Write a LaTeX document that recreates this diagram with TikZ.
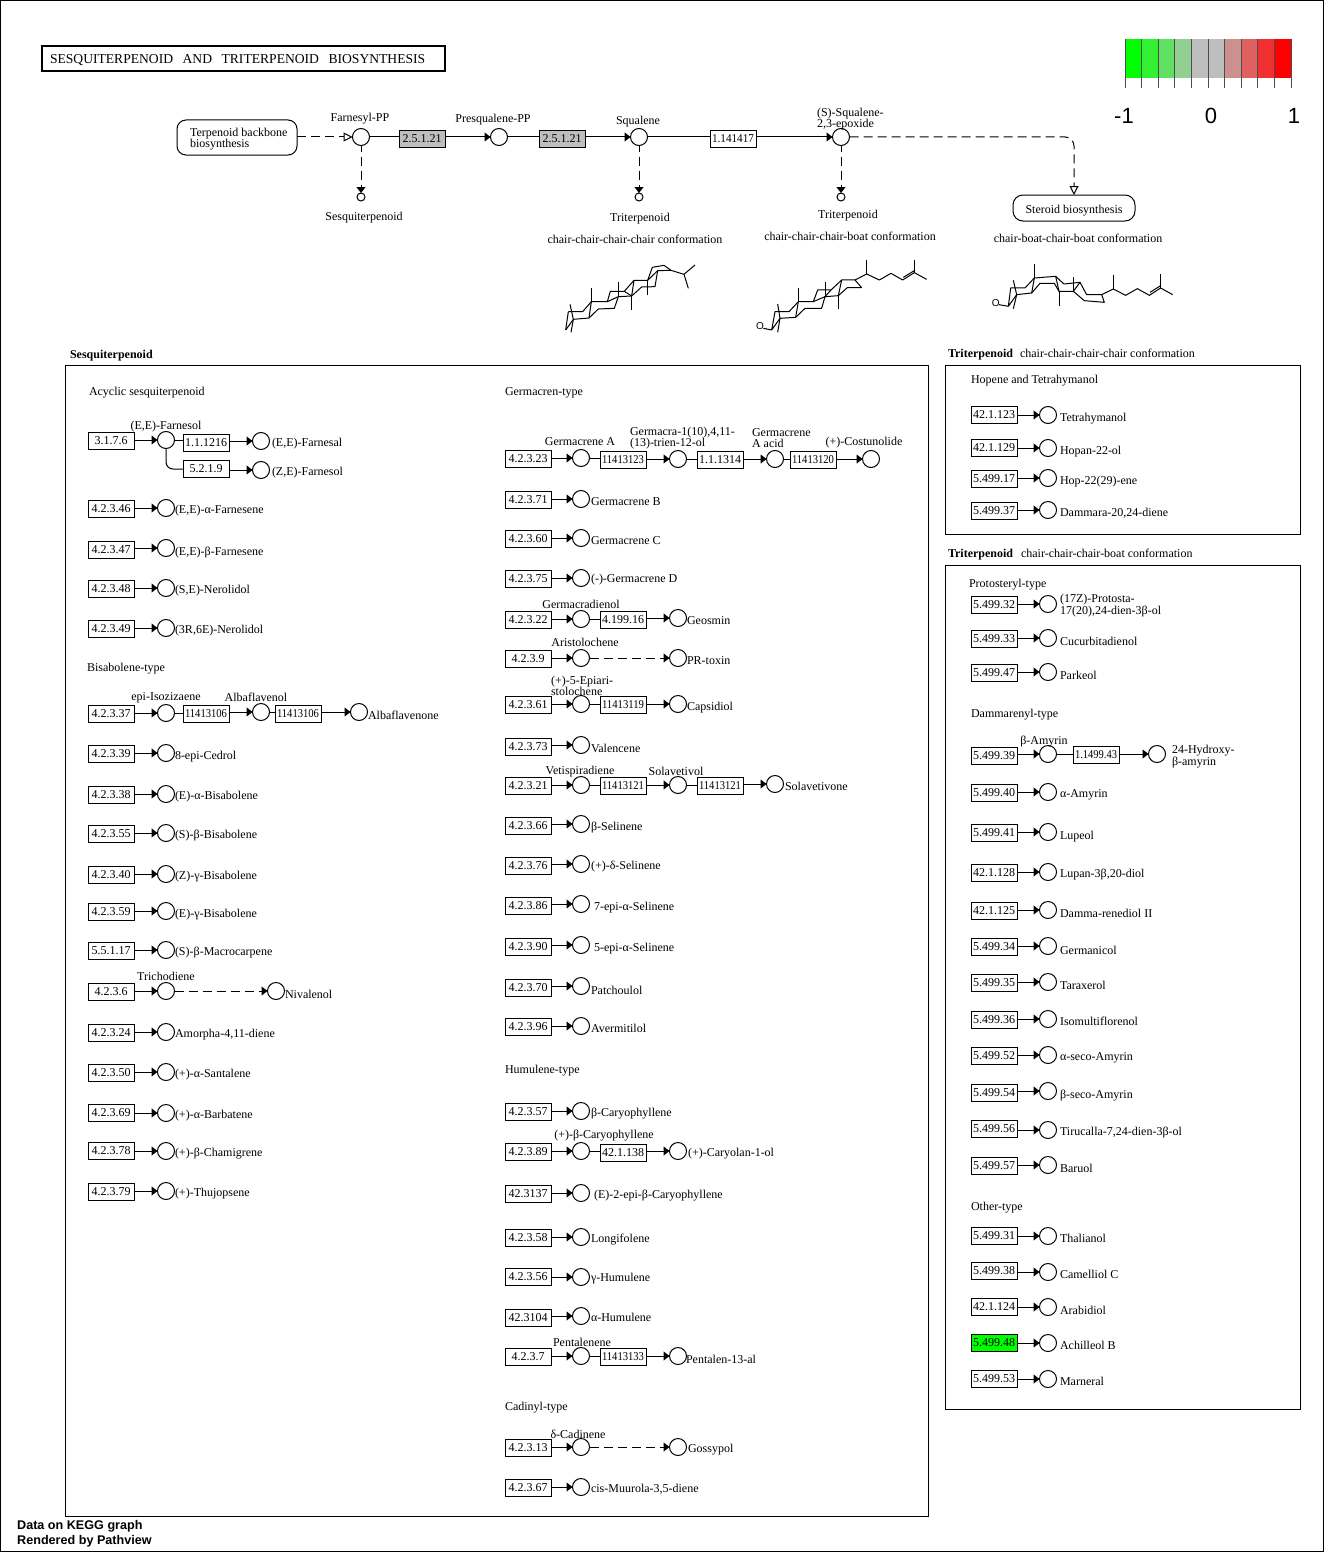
\documentclass[tikz,border=0pt]{standalone}
\usepackage{fontspec}
\usepackage{graphicx}
\setmainfont{Liberation Serif}
\setsansfont{Liberation Sans}
\usetikzlibrary{arrows.meta}
\newcommand\fitw[1]{\raisebox{-0.8pt}{\sbox0{#1}\ifdim\wd0>42pt\resizebox{42pt}{\height}{#1}\else#1\fi}}
\tikzset{
  base/.style={font=\fontsize{12}{11}\selectfont,inner sep=0pt,outer sep=0pt},
  ecbox/.style={base,draw=black,line width=1pt,fill=white,minimum width=46pt,minimum height=17pt},
  cpd/.style={draw=black,line width=1pt,fill=white,circle,minimum size=17pt,inner sep=0pt,outer sep=0pt},
  smallcpd/.style={draw=black,line width=1pt,fill=white,circle,minimum size=8pt,inner sep=0pt,outer sep=0pt},
  lb/.style={base,anchor=west,align=left,yshift=-1.5pt},
  lc/.style={base,anchor=center,align=center,yshift=-1.5pt},
  rx/.style={draw=black,line width=1pt,-{Triangle[length=6pt,width=9pt,fill=black]}},
  plainln/.style={draw=black,line width=1pt},
  dsh/.style={dash pattern=on 9pt off 5pt},
  dshv/.style={dash pattern=on 9pt off 5pt,dash phase=3pt},
  opentip/.style={draw=black,line width=1pt,-{Triangle[open,length=9pt,width=9pt,fill=white]}},
  frame/.style={draw=black,line width=1pt},
  pathbox/.style={base,draw=black,line width=1pt,rounded corners=9pt,fill=white},
  mol/.style={draw=black,line width=1pt,line join=bevel},
  atomlabel/.style={font=\fontsize{10}{10}\selectfont\sffamily,inner sep=0pt},
  footer/.style={font=\fontsize{12.6}{12}\selectfont\sffamily\bfseries,inner sep=0pt,anchor=west},
  legendnum/.style={font=\fontsize{22}{22}\selectfont\sffamily,inner sep=0pt,anchor=center},
  boldlb/.style={lb,font=\fontsize{12}{11}\selectfont\bfseries},
}
\definecolor{ecgray}{HTML}{BEBEBE}
\definecolor{ecgreen}{HTML}{00FF00}
% enzyme box, compound, labels
\newcommand\EC[5][]{\node[ecbox,#1] (#2) at (#3,#4) {\fitw{#5}};}
\newcommand\CP[3]{\node[cpd] (#1) at (#2,#3) {};}
\newcommand\LB[4]{\node[lb] (#1) at (#2,#3) {#4};}
\newcommand\LC[4]{\node[lc] (#1) at (#2,#3) {#4};}
% one-step row without label: id, box x, box y, ec, circle x, circle y
\newcommand\RN[6]{\EC{e#1}{#2}{#3}{#4}\CP{c#1}{#5}{#6}\draw[rx] (e#1.east |- c#1.west) -- (c#1.west);}
% with label: id, box x, box y, ec, circle x, circle y, label x, label y, label
\newcommand\RX[9]{\RN{#1}{#2}{#3}{#4}{#5}{#6}\LB{l#1}{#7}{#8}{#9}}
\newcommand\RL[6][175]{\RX{#2}{111}{#3}{#4}{166}{#5}{#1}{#6}}
\newcommand\RM[6][591]{\RX{#2}{528}{#3}{#4}{581}{#5}{#1}{#6}}
\newcommand\RR[6][1060]{\RX{#2}{994}{#3}{#4}{1048}{#5}{#1}{#6}}
% next step: from circle, id, box x, box y, ec, circle x, circle y
\newcommand\ST[7]{\EC{e#2}{#3}{#4}{#5}\CP{c#2}{#6}{#7}\draw[plainln] (#1.east) -- (e#2.west |- #1.east);\draw[rx] (e#2.east |- c#2.west) -- (c#2.west);}
\begin{document}
\begin{tikzpicture}[x=1pt,y=-1pt]
\useasboundingbox (0,0) rectangle (1324,1552);
\fill[white] (0,0) rectangle (1324,1552);
\draw[black,line width=1pt] (0.5,0.5) rectangle (1323.5,1551.5);

% title
\node[draw=black,line width=2pt,minimum width=403pt,minimum height=24.7pt,inner sep=0pt,outer sep=0pt,anchor=north west] (ttlbox) at (41.5,46) {};
\node[base,font=\fontsize{13.6}{14}\selectfont,anchor=west] (ttl) at (50,60) {\spaceskip=9.5pt SESQUITERPENOID AND TRITERPENOID BIOSYNTHESIS};

% legend
\foreach \i/\c in {0/00FF00,1/33F033,2/60E060,3/92CF92,4/BEBEBE,5/BEBEBE,6/CE8F8F,7/E06060,8/F03030,9/FF0000}{
  \definecolor{lg}{HTML}{\c}
  \fill[lg] ({1125+\i*16.6},39) rectangle ({1125+(\i+1)*16.6},78);
}
\foreach \i in {0,...,10}{\draw[black!70,line width=1pt] ({1125+\i*16.6},39) -- ({1125+\i*16.6},88);}
\node[legendnum] (lgm) at (1124,116) {-1};
\node[legendnum] (lgz) at (1211,116) {0};
\node[legendnum] (lgp) at (1294,116) {1};

% top pathway
\node[pathbox,minimum width=120pt,minimum height=35pt] (tbb) at (237,137.5) {};
\LB{tbbt}{190}{137.5}{Terpenoid backbone\\biosynthesis}
\CP{fpp}{361}{137}\LC{fppl}{360}{117}{Farnesyl-PP}
\draw[opentip,dsh] (tbb.east |- fpp.west) -- (fpp.west);
\EC[fill=ecgray]{e1}{422}{139}{2.5.1.21}
\CP{psq}{499}{137}\LC{psql}{493}{118}{Presqualene-PP}
\EC[fill=ecgray]{e2}{562}{139}{2.5.1.21}
\CP{sq}{639}{137}\LC{sql}{638}{120}{Squalene}
\EC{e3}{733}{139}{1.141417}
\CP{sqe}{841}{137}\LB{sqel}{817}{117.5}{(S)-Squalene-\\2,3-epoxide}
\draw[plainln] (fpp.east) -- (e1.west |- fpp.east);
\draw[rx] (e1.east |- psq.west) -- (psq.west);
\draw[plainln] (psq.east) -- (e2.west |- psq.east);
\draw[rx] (e2.east |- sq.west) -- (sq.west);
\draw[plainln] (sq.east) -- (e3.west |- sq.east);
\draw[rx] (e3.east |- sqe.west) -- (sqe.west);
\node[smallcpd] (s1) at (361,197) {};
\node[smallcpd] (s2) at (639,197) {};
\node[smallcpd] (s3) at (841,197) {};
\draw[rx,dshv] (fpp.south) -- (s1.north);
\draw[rx,dshv] (sq.south) -- (s2.north);
\draw[rx,dshv] (sqe.south) -- (s3.north);
\LC{s1l}{364}{216}{Sesquiterpenoid}
\LC{s2l}{640}{217}{Triterpenoid}
\LC{s2c}{635}{238}{chair-chair-chair-chair conformation}
\LC{s3l}{848}{214}{Triterpenoid}
\LC{s3c}{850}{235}{chair-chair-chair-boat conformation}
\node[pathbox,minimum width=122pt,minimum height=26pt,rounded corners=10pt] (stb) at (1074,208) {};
\LC{stbt}{1074}{209}{Steroid biosynthesis}
\draw[opentip,dsh,rounded corners=9pt] (sqe.east) -- (stb.north |- sqe.east) -- (stb.north);
\LC{s4c}{1078}{237}{chair-boat-chair-boat conformation}

% molecule 1
\begin{scope}[shift={(560,260)},x=0.3333pt,y=-0.3333pt]
\draw[mol] (25,155)--(68,155)--(94,125)--(142,125)--(151,94)--(193,94)--(222,61)--(263,61)--(277,22)--(312,16)--(333,31)--(372,43);
\draw[mol] (17,210)--(40,178)--(87,174)--(115,147)--(163,145)--(175,110)--(215,108)--(245,81)--(285,80)--(293,32)--(333,31);
\draw[mol] (17,210)--(25,155);
\draw[mol] (94,125)--(87,174);
\draw[mol] (142,125)--(175,110);
\draw[mol] (193,94)--(215,108)--(222,61);
\draw[mol] (263,61)--(293,32);
\draw[mol] (95,85)--(95,125);
\draw[mol] (175,67)--(175,110);
\draw[mol] (215,108)--(215,150);
\draw[mol] (263,61)--(263,104);
\draw[mol] (30,133)--(40,178)--(33,217);
\draw[mol] (405,15)--(372,43)--(385,85);
\end{scope}
% molecule 2
\begin{scope}[shift={(750,255)},x=0.3333pt,y=-0.3333pt]
\draw[mol] (65,225)--(75,170)--(117,170)--(145,140)--(190,140)--(203,105)--(243,105)--(275,75)--(315,75)--(335,98)--(292,98)--(265,122)--(225,125)--(215,160)--(165,160)--(137,187)--(90,190)--(65,225);
\draw[mol] (145,140)--(137,187);
\draw[mol] (190,140)--(225,125)--(243,105);
\draw[mol] (275,75)--(265,122);
\draw[mol] (145,98)--(145,140);
\draw[mol] (225,82)--(225,125);
\draw[mol] (265,122)--(265,163);
\draw[mol] (83,147)--(90,190)--(83,232);
\draw[mol] (40,220)--(65,225);
\draw[mol] (315,75)--(350,57)--(388,75)--(423,55)--(458,75)--(493,53)--(530,73);
\draw[mol] (460,67)--(493,47);
\draw[mol] (493,15)--(493,53);
\draw[mol] (350,15)--(350,57);
\node[atomlabel] (o2) at (30,214) {O};
\end{scope}
% molecule 3
\begin{scope}[shift={(985,258)},x=0.3333pt,y=-0.3333pt]
\draw[mol] (70,145)--(77,90)--(120,90)--(148,60)--(212,55)--(237,78)--(285,73)--(305,110)--(350,110)--(358,133)--(298,128)--(265,100)--(222,100)--(208,76)--(165,76)--(140,105)--(95,110)--(70,145);
\draw[mol] (148,60)--(140,105);
\draw[mol] (212,55)--(222,100);
\draw[mol] (265,100)--(285,73);
\draw[mol] (148,18)--(148,60);
\draw[mol] (222,100)--(222,143);
\draw[mol] (265,58)--(265,100);
\draw[mol] (85,67)--(95,110)--(85,152);
\draw[mol] (42,140)--(70,145);
\draw[mol] (350,110)--(385,93)--(422,112)--(457,92)--(493,112)--(527,90)--(563,110);
\draw[mol] (385,50)--(385,93);
\draw[mol] (527,48)--(527,90);
\draw[mol] (495,103)--(527,83);
\node[atomlabel] (o3) at (32,134) {O};
\end{scope}

% frames
\draw[frame] (65.5,365.5) rectangle (928.5,1516.5);
\draw[frame] (945.5,365.5) rectangle (1300.5,534.5);
\draw[frame] (945.5,565.5) rectangle (1300.5,1409.5);
\node[boldlb] (t1) at (70,354) {Sesquiterpenoid};
\node[boldlb] (t2) at (948,353) {Triterpenoid};
\LB{t2b}{1020}{352}{chair-chair-chair-chair conformation}
\node[boldlb] (t3) at (948,553) {Triterpenoid};
\LB{t3b}{1021}{552}{chair-chair-chair-boat conformation}

% ---------- left column
\LB{h1}{89}{391}{Acyclic sesquiterpenoid}
\RN{a}{111}{441}{3.1.7.6}{166}{440}
\LC{al}{166}{425}{(E,E)-Farnesol}
\EC{eb}{206}{443}{1.1.1216}\CP{cb}{261}{441}\LB{lb}{272}{442}{(E,E)-Farnesal}
\EC{ec}{206}{469}{5.2.1.9}\CP{cc}{261}{470}\LB{lc}{272}{471}{(Z,E)-Farnesol}
\draw[plainln] (ca.east) -- (eb.west |- ca.east);
\draw[plainln,rounded corners=7pt] (ca.south) -- (ca.south |- ec.west) -- (ec.west);
\draw[rx] (eb.east |- cb.west) -- (cb.west);
\draw[rx] (ec.east |- cc.west) -- (cc.west);
\RL{d}{509}{4.2.3.46}{508}{509}{(E,E)-α-Farnesene}
\RL{f}{550}{4.2.3.47}{548}{551}{(E,E)-β-Farnesene}
\RL{g}{589}{4.2.3.48}{588}{589}{(S,E)-Nerolidol}
\RL{h}{629}{4.2.3.49}{628}{629}{(3R,6E)-Nerolidol}
\LB{h2}{87}{667}{Bisabolene-type}
\RN{i}{111}{714}{4.2.3.37}{166}{713}
\LC{il}{166}{696}{epi-Isozizaene}
\ST{ci}{j}{206}{714}{11413106}{261}{712}\LC{jl}{256}{696}{Albaflavenol}
\ST{cj}{k}{298}{714}{11413106}{359}{712}\LB{kl}{368}{714}{Albaflavenone}
\RL{m}{754}{4.2.3.39}{753}{755}{8-epi-Cedrol}
\RL{n}{795}{4.2.3.38}{794}{795}{(E)-α-Bisabolene}
\RL{o}{834}{4.2.3.55}{833}{834}{(S)-β-Bisabolene}
\RL{p}{875}{4.2.3.40}{874}{875}{(Z)-γ-Bisabolene}
\RL{q}{912}{4.2.3.59}{911}{913}{(E)-γ-Bisabolene}
\RL{r}{951}{5.5.1.17}{950}{951}{(S)-β-Macrocarpene}
\RN{s}{111}{992}{4.2.3.6}{166}{991}
\LC{sl}{166}{975}{Trichodiene}
\CP{ct}{276}{991}\LB{tl}{285}{993}{Nivalenol}
\draw[rx,dsh] (cs.east) -- (ct.west);
\RL{u}{1033}{4.2.3.24}{1032}{1033}{Amorpha-4,11-diene}
\RL{v}{1073}{4.2.3.50}{1072}{1073}{(+)-α-Santalene}
\RL{w}{1113}{4.2.3.69}{1113}{1114}{(+)-α-Barbatene}
\RL{x}{1151}{4.2.3.78}{1151}{1152}{(+)-β-Chamigrene}
\RL{y}{1192}{4.2.3.79}{1191}{1192}{(+)-Thujopsene}

% ---------- middle column
\LB{h3}{505}{391}{Germacren-type}
\RN{m1}{528}{459}{4.2.3.23}{581}{458}
\LC{m1l}{580}{440}{Germacrene A}
\ST{cm1}{m2}{623}{460}{11413123}{678}{459}\LB{m2l}{630}{436.5}{Germacra-1(10),4,11-\\(13)-trien-12-ol}
\ST{cm2}{m3}{720}{460}{1.1.1314}{775}{459}\LB{m3l}{752}{436.5}{Germacrene\\A acid}
\ST{cm3}{m4}{813}{460}{11413120}{871}{459}\LC{m4l}{864}{441}{(+)-Costunolide}
\RM{m5}{500}{4.2.3.71}{499}{500}{Germacrene B}
\RM{m6}{539}{4.2.3.60}{538}{539}{Germacrene C}
\RM{m7}{579}{4.2.3.75}{578}{578}{(-)-Germacrene D}
\RN{m8}{528}{620}{4.2.3.22}{581}{619}
\LC{m8l}{581}{603}{Germacradienol}
\ST{cm8}{m9}{623}{620}{4.199.16}{678}{618}\LB{m9l}{687}{619}{Geosmin}
\RN{m10}{528}{659}{4.2.3.9}{581}{658}
\LC{m10l}{585}{641}{Aristolochene}
\CP{cm11}{678}{658}\LB{m11l}{687}{659}{PR-toxin}
\draw[rx,dsh] (cm10.east) -- (cm11.west);
\RN{m12}{528}{705}{4.2.3.61}{581}{704}
\LB{m12l}{551}{684.5}{(+)-5-Epiari-\\stolochene}
\ST{cm12}{m13}{623}{705}{11413119}{678}{704}\LB{m13l}{687}{706}{Capsidiol}
\RM{m14}{747}{4.2.3.73}{745}{747}{Valencene}
\RN{m15}{528}{786}{4.2.3.21}{581}{785}
\LC{m15l}{580}{770}{Vetispiradiene}
\ST{cm15}{m16}{623}{786}{11413121}{678}{785}\LC{m16l}{676}{770}{Solavetivol}
\ST{cm16}{m17}{720}{786}{11413121}{775}{784}\LB{m17l}{785}{785}{Solavetivone}
\RM{m18}{826}{4.2.3.66}{824}{826}{β-Selinene}
\RM{m19}{866}{4.2.3.76}{864}{865}{(+)-δ-Selinene}
\RM[594]{m20}{906}{4.2.3.86}{904}{906}{7-epi-α-Selinene}
\RM[594]{m21}{947}{4.2.3.90}{945}{947}{5-epi-α-Selinene}
\RM{m22}{988}{4.2.3.70}{986}{989}{Patchoulol}
\RM{m23}{1027}{4.2.3.96}{1026}{1027}{Avermitilol}
\LB{h4}{505}{1069}{Humulene-type}
\RM{m24}{1112}{4.2.3.57}{1111}{1112}{β-Caryophyllene}
\RN{m25}{528}{1152}{4.2.3.89}{581}{1151}
\LC{m25l}{604}{1134}{(+)-β-Caryophyllene}
\ST{cm25}{m26}{623}{1153}{42.1.138}{678}{1151}\LB{m26l}{688}{1152}{(+)-Caryolan-1-ol}
\RM[594]{m27}{1194}{42.3137}{1193}{1194}{(E)-2-epi-β-Caryophyllene}
\RM{m28}{1238}{4.2.3.58}{1237}{1238}{Longifolene}
\RM{m29}{1277}{4.2.3.56}{1277}{1277}{γ-Humulene}
\RM{m30}{1318}{42.3104}{1316}{1316}{α-Humulene}
\RN{m31}{528}{1357}{4.2.3.7}{581}{1356}
\LC{m31l}{582}{1341}{Pentalenene}
\ST{cm31}{m32}{623}{1357}{11413133}{678}{1356}\LB{m32l}{686}{1358}{Pentalen-13-al}
\LB{h5}{505}{1406}{Cadinyl-type}
\RN{m33}{528}{1448}{4.2.3.13}{581}{1447}
\LC{m33l}{578}{1433}{δ-Cadinene}
\CP{cm34}{678}{1447}\LB{m34l}{688}{1448}{Gossypol}
\draw[rx,dsh] (cm33.east) -- (cm34.west);
\RM{m35}{1488}{4.2.3.67}{1487}{1488}{cis-Muurola-3,5-diene}

% ---------- right column
\LB{h6}{971}{379}{Hopene and Tetrahymanol}
\RR{r1}{415}{42.1.123}{415}{417}{Tetrahymanol}
\RR{r2}{448}{42.1.129}{448}{450}{Hopan-22-ol}
\RR{r3}{479}{5.499.17}{478}{480}{Hop-22(29)-ene}
\RR{r4}{511}{5.499.37}{510}{512}{Dammara-20,24-diene}
\LB{h7}{969}{583}{Protosteryl-type}
\RR{r5}{605}{5.499.32}{604}{604.5}{(17Z)-Protosta-\\17(20),24-dien-3β-ol}
\RR{r6}{639}{5.499.33}{638}{640}{Cucurbitadienol}
\RR{r7}{673}{5.499.47}{672}{674}{Parkeol}
\LB{h8}{971}{713}{Dammarenyl-type}
\RN{r8}{994}{756}{5.499.39}{1048}{754}
\LC{r8l}{1044}{740}{β-Amyrin}
\ST{cr8}{r9}{1096}{755}{1.1499.43}{1157}{754}\LB{r9l}{1172}{755.5}{24-Hydroxy-\\β-amyrin}
\RR{r10}{793}{5.499.40}{792}{793}{α-Amyrin}
\RR{r11}{833}{5.499.41}{832}{835}{Lupeol}
\RR{r12}{873}{42.1.128}{872}{873}{Lupan-3β,20-diol}
\RR{r13}{911}{42.1.125}{910}{912}{Damma-renediol II}
\RR{r14}{947}{5.499.34}{946}{949}{Germanicol}
\RR{r15}{983}{5.499.35}{982}{984}{Taraxerol}
\RR{r16}{1020}{5.499.36}{1019}{1020}{Isomultiflorenol}
\RR{r17}{1056}{5.499.52}{1055}{1056}{α-seco-Amyrin}
\RR{r18}{1093}{5.499.54}{1091}{1094}{β-seco-Amyrin}
\RR{r19}{1129}{5.499.56}{1130}{1131}{Tirucalla-7,24-dien-3β-ol}
\RR{r20}{1166}{5.499.57}{1165}{1167}{Baruol}
\LB{h9}{971}{1206}{Other-type}
\RR{r21}{1236}{5.499.31}{1236}{1237}{Thalianol}
\RR{r22}{1271}{5.499.38}{1272}{1273}{Camelliol C}
\RR{r23}{1307}{42.1.124}{1307}{1309}{Arabidiol}
\EC[fill=ecgreen]{er24}{994}{1343}{5.499.48}\CP{cr24}{1048}{1343}\draw[rx] (er24.east |- cr24.west) -- (cr24.west);\LB{lr24}{1060}{1344}{Achilleol B}
\RR{r25}{1379}{5.499.53}{1379}{1380}{Marneral}

% footer
\node[footer] (f1) at (17,1526) {Data on KEGG graph};
\node[footer] (f2) at (17,1541) {Rendered by Pathview};
\end{tikzpicture}
\end{document}
